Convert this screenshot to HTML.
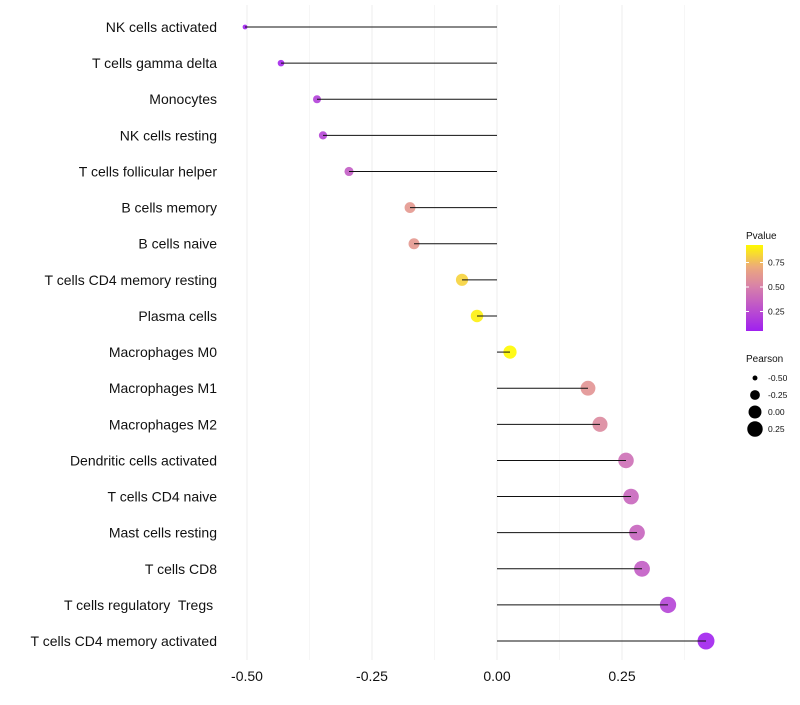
<!DOCTYPE html>
<html><head><meta charset="utf-8"><style>
body{margin:0;background:#fff;font-family:"Liberation Sans",sans-serif}
text{white-space:pre}
</style></head><body>
<svg id="chart" width="800" height="700" xmlns="http://www.w3.org/2000/svg"></svg>
<script>
const categories=["NK cells activated","T cells gamma delta","Monocytes","NK cells resting","T cells follicular helper","B cells memory","B cells naive","T cells CD4 memory resting","Plasma cells","Macrophages M0","Macrophages M1","Macrophages M2","Dendritic cells activated","T cells CD4 naive","Mast cells resting","T cells CD8","T cells regulatory  Tregs ","T cells CD4 memory activated"];
const pearson=[-0.504,-0.432,-0.36,-0.348,-0.296,-0.174,-0.166,-0.07,-0.04,0.026,0.182,0.206,0.258,0.268,0.28,0.29,0.342,0.418];
const pvalues=[0.05,0.08,0.2,0.22,0.33,0.62,0.62,0.82,0.9,0.93,0.6,0.55,0.42,0.38,0.37,0.33,0.22,0.06];
const xTicks=[-0.5,-0.25,0,0.25];
const xTickLabels=["-0.50","-0.25","0.00","0.25"];
const pTicks=[0.25,0.5,0.75];
const sizeTicks=[-0.5,-0.25,0,0.25];
const NS="http://www.w3.org/2000/svg";
const svg=document.getElementById('chart');
const x=v=>497+v*500;
const y=i=>27+i*36.12;
const r=v=>Math.sqrt(6+(72-6)*(v+0.5)/0.92);
function col(p){
  const s=[[0.05,[160,32,240]],[0.5,[215,128,170]],[0.7,[236,168,125]],[0.93,[255,250,0]]];
  p=Math.max(0.05,Math.min(0.93,p));
  for(let k=0;k<s.length-1;k++){if(p<=s[k+1][0]){const t=(p-s[k][0])/(s[k+1][0]-s[k][0]);const c=s[k][1].map((a,j)=>Math.round(a+(s[k+1][1][j]-a)*t));return `rgb(${c})`;}}
}
function el(t,a,txt){const e=document.createElementNS(NS,t);for(const k in a)e.setAttribute(k,a[k]);if(txt!==undefined)e.textContent=txt;svg.appendChild(e);return e;}
[-0.375,-0.125,0.125,0.375].forEach(v=>{const g=el('line',{x1:x(v),x2:x(v),y1:5,y2:660,stroke:'#f6f6f6','stroke-width':1});

});
xTicks.forEach((v,i)=>{const g=el('line',{x1:x(v),x2:x(v),y1:5,y2:660,stroke:'#eeeeee','stroke-width':1});


const t=el('text',{x:x(v),y:681,'text-anchor':'middle','font-size':14,fill:'#111'},xTickLabels[i]);

});
categories.forEach((c,i)=>{
  const t=el('text',{x:217,y:y(i)+5,'text-anchor':'end','font-size':14,fill:'#111'},c);
  
  
  const p=el('circle',{cx:x(pearson[i]),cy:y(i),r:r(pearson[i]),fill:col(pvalues[i]),'fill-opacity':0.9});
  
  
  const l=el('line',{x1:x(0),x2:x(pearson[i]),y1:y(i),y2:y(i),stroke:'#111','stroke-width':1});
  
  
});
const lt=el('text',{x:746,y:239,'font-size':10,fill:'#111'},'Pvalue');


const defs=el('defs',{});
const lg=document.createElementNS(NS,'linearGradient');lg.setAttribute('id','pg');lg.setAttribute('x1','0');lg.setAttribute('x2','0');lg.setAttribute('y1','1');lg.setAttribute('y2','0');
defs.appendChild(lg);
for(let k=0;k<=20;k++){const s=document.createElementNS(NS,'stop');s.setAttribute('offset',k/20);s.setAttribute('stop-color',col(0.05+0.88*k/20));lg.appendChild(s);}
const py=p=>336-(p*98);
const bar=el('rect',{x:746,y:245,width:17,height:86,fill:'url(#pg)'});


pTicks.forEach(p=>{el('line',{x1:746,x2:749,y1:py(p),y2:py(p),stroke:'#fff'});el('line',{x1:760,x2:763,y1:py(p),y2:py(p),stroke:'#fff'});
const t=el('text',{x:768,y:py(p)+3,'font-size':8.5,fill:'#111'},p.toFixed(2));

});
const st=el('text',{x:746,y:362,'font-size':10,fill:'#111'},'Pearson');


sizeTicks.forEach((v,i)=>{const cy=378+i*17;
const c=el('circle',{cx:755,cy:cy,r:r(v),fill:'#000'});


const t=el('text',{x:768,y:cy+3,'font-size':8.5,fill:'#111'},v.toFixed(2));

});
</script>
</body></html>
